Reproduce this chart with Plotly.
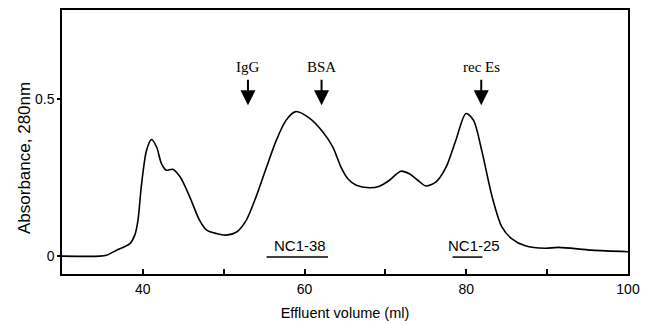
import plotly.graph_objects as go

# Elution profile
volume_ml = [30.0, 34.7, 35.5, 36.75, 38.4, 39.0, 39.4, 39.8, 40.45, 41.07, 41.7, 42.3,
             42.9, 43.67, 44.6, 45.8, 47.0, 47.9, 49.1, 50.3, 51.6, 52.8, 54.0, 55.3,
             56.5, 57.7, 58.9, 60.6, 62.26, 63.5, 64.5, 65.35, 66.4, 68.0, 69.26, 70.5,
             71.9, 72.96, 74.0, 75.0, 76.26, 77.5, 78.7, 79.96, 80.9, 81.9, 83.2, 84.4,
             85.6, 87.3, 89.75, 91.4, 95.5, 100.0]
absorbance = [0.0, 0.0, 0.003, 0.019, 0.04, 0.067, 0.115, 0.22, 0.337, 0.372, 0.348, 0.295,
              0.274, 0.277, 0.253, 0.189, 0.115, 0.083, 0.072, 0.067, 0.077, 0.115, 0.189, 0.284,
              0.369, 0.433, 0.461, 0.440, 0.396, 0.348, 0.284, 0.247, 0.226, 0.218, 0.223, 0.242,
              0.271, 0.263, 0.242, 0.224, 0.237, 0.284, 0.369, 0.455, 0.433, 0.338, 0.189, 0.093,
              0.056, 0.033, 0.025, 0.028, 0.019, 0.014]

# Calibration markers
marker_names = ["IgG", "BSA", "rec Es"]
marker_volume = [53.0, 62.1, 81.85]

# Fractions
fraction_names = ["NC1-38", "NC1-25"]
fraction_start = [55.3, 78.3]
fraction_end = [62.9, 82.0]
fraction_label_x = [59.45, 81.0]

x_tickvals = [40, 50, 60, 70, 80, 90, 100]
x_ticktext = ["40", "", "60", "", "80", "", "100"]
y_tickvals = [0, 0.5]
y_ticktext = ["0", "0.5"]

fig = go.Figure()
fig.add_trace(go.Scatter(x=volume_ml, y=absorbance, mode="lines",
                         line=dict(color="black", width=1.6, shape="spline", smoothing=0.8),
                         hoverinfo="skip", showlegend=False))

annotations = []
for name, v in zip(marker_names, marker_volume):
    annotations.append(dict(x=v, y=0.481, ax=v, ay=0.567, xref="x", yref="y",
                            axref="x", ayref="y", text="", showarrow=True,
                            arrowhead=2, arrowsize=1.5, arrowwidth=2, arrowcolor="black"))
    annotations.append(dict(x=v, y=0.602, xref="x", yref="y", text=name, showarrow=False,
                            font=dict(family="Liberation Serif", size=15, color="black")))

shapes = []
for name, s, e, lx in zip(fraction_names, fraction_start, fraction_end, fraction_label_x):
    shapes.append(dict(type="line", xref="x", yref="y", x0=s, x1=e, y0=-0.003, y1=-0.003,
                       line=dict(color="black", width=1.5)))
    annotations.append(dict(x=lx, y=0.035, xref="x", yref="y", text=name, showarrow=False,
                            font=dict(family="Liberation Sans", size=15, color="black")))

# y-axis title placed as rotated annotation (pixel centre ~ (24, 158))
annotations.append(dict(x=(24 - 62) / 566, y=(274 - 158) / 264, xref="paper", yref="paper",
                        xanchor="center", yanchor="middle",
                        text="Absorbance, 280nm", showarrow=False, textangle=-90,
                        font=dict(family="Liberation Sans", size=17, color="black")))

fig.update_layout(
    width=656, height=325,
    margin=dict(l=62, r=28, t=10, b=51, autoexpand=False),
    paper_bgcolor="white", plot_bgcolor="white",
    font=dict(family="Liberation Sans", size=14, color="black"),
    shapes=shapes,
    annotations=annotations,
)

fig.update_xaxes(range=[30, 100], tickvals=x_tickvals, ticktext=x_ticktext,
                 ticks="inside", ticklen=5, tickwidth=1.5, tickcolor="black",
                 showline=True, linewidth=1.5, linecolor="black", mirror=True,
                 showgrid=False, zeroline=False, ticklabelstandoff=1, automargin=False,
                 title=dict(text="Effluent volume (ml)", standoff=12,
                            font=dict(family="Liberation Sans", size=14.5)))
fig.update_yaxes(range=[-0.057, 0.785], tickvals=y_tickvals, ticktext=y_ticktext,
                 ticks="outside", ticklen=3, tickwidth=1.5, tickcolor="black",
                 showline=True, linewidth=1.5, linecolor="black", mirror=True,
                 showgrid=False, zeroline=False, automargin=False)

fig.write_html("out.html")
